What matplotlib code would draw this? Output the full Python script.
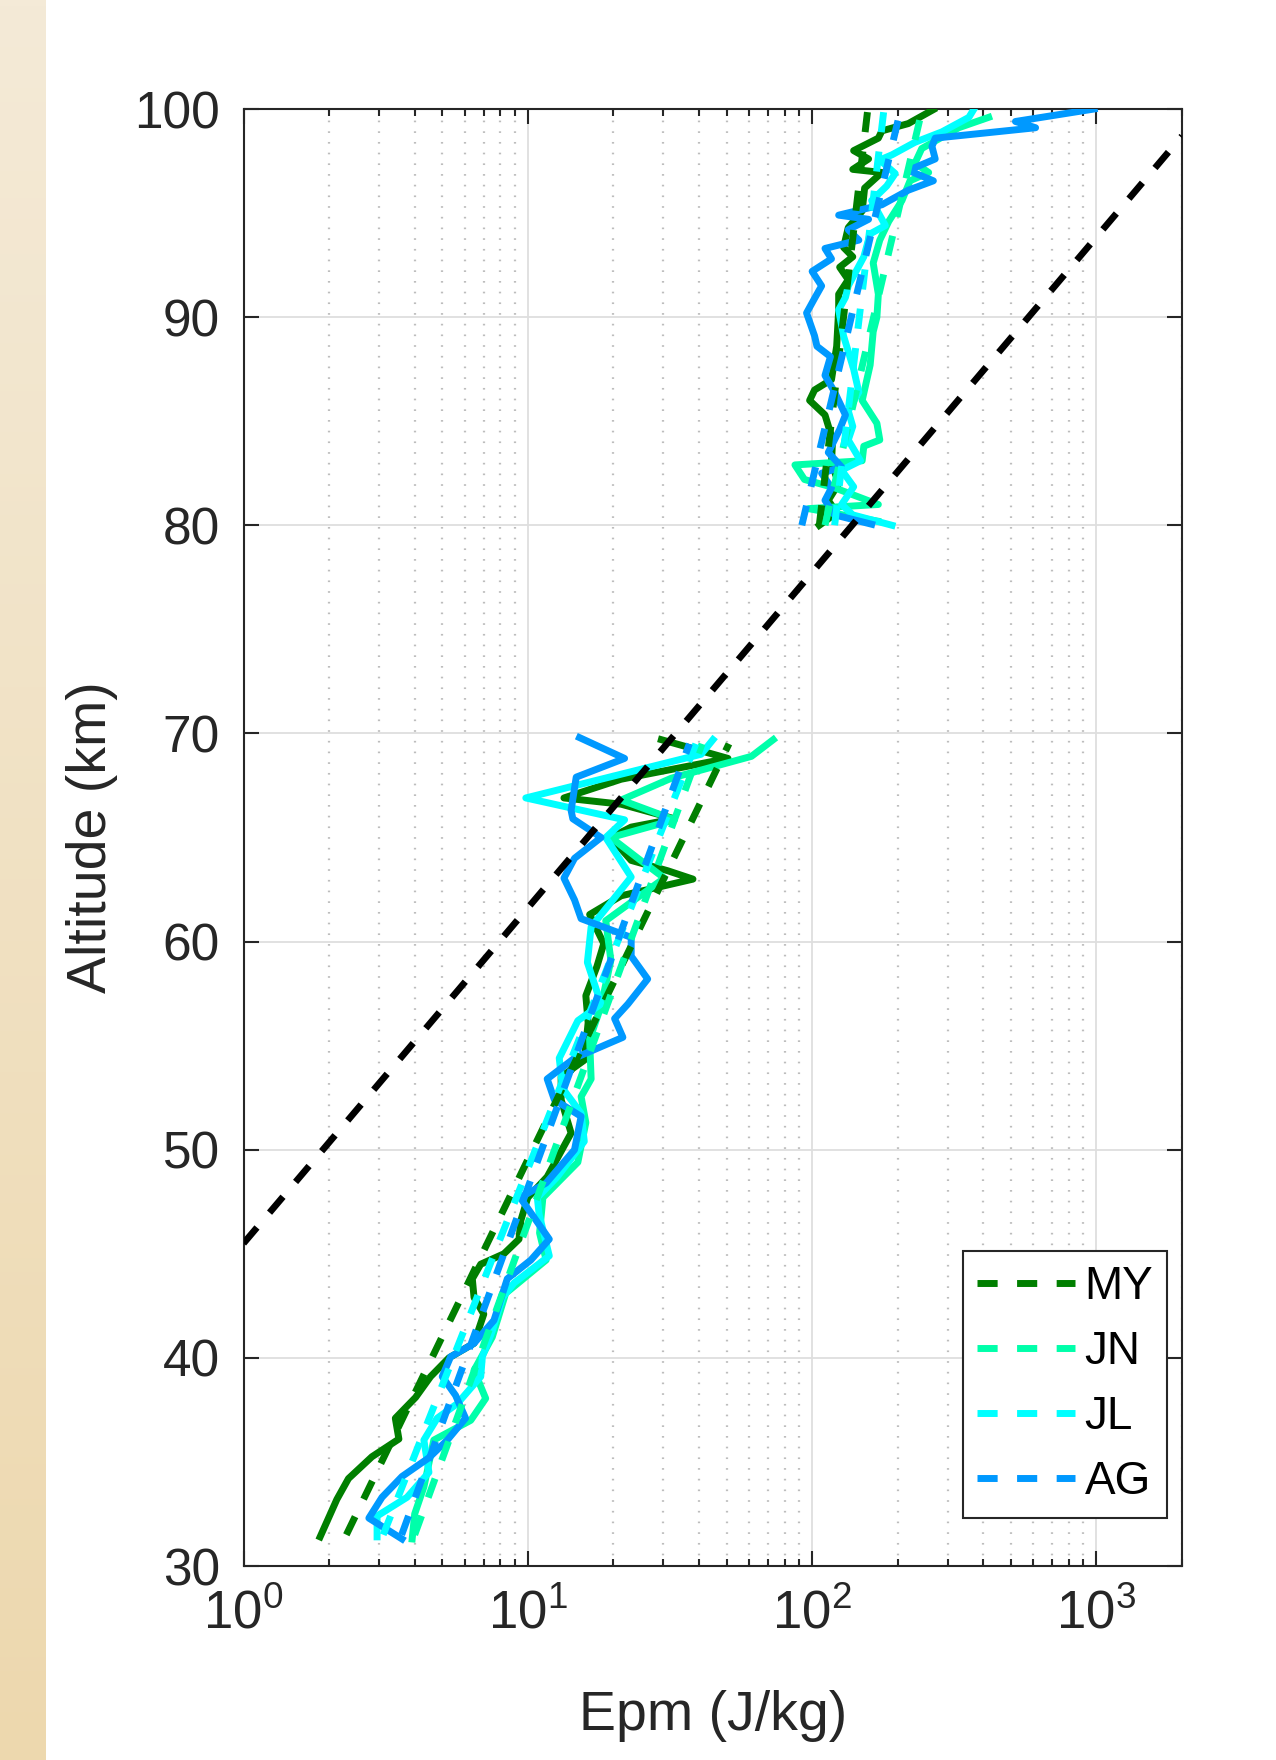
import numpy as np
import matplotlib
matplotlib.use('Agg')
import matplotlib.pyplot as plt
from matplotlib.ticker import LogLocator, LogFormatterMathtext, NullFormatter, NullLocator
from matplotlib.colors import LinearSegmentedColormap

plt.rcParams['font.family'] = ['Liberation Sans', 'DejaVu Sans']
plt.rcParams['mathtext.fontset'] = 'custom'
plt.rcParams['mathtext.rm'] = 'Liberation Sans'
plt.rcParams['mathtext.it'] = 'Liberation Sans:italic'
plt.rcParams['mathtext.bf'] = 'Liberation Sans:bold'
plt.rcParams['lines.scale_dashes'] = False

# ---- profiles, lower part (stratosphere / lower mesosphere) ----
my_lo_alt = [31.4, 33.2, 34.2, 35.25, 36.1, 37.1, 38.1, 39.1, 40.0, 40.7, 42.1, 42.9, 43.8, 44.5,
             45.0, 45.7, 46.6, 47.7, 48.7, 50.8, 52.4, 53.5, 54.3, 56.1, 57.4, 58.8, 59.9, 61.3,
             62.2, 63.0, 63.4, 63.9, 65.0, 65.5, 65.9, 66.6, 66.9, 67.8, 68.8, 69.7]
my_lo_epm = [1.86, 2.13, 2.34, 2.83, 3.52, 3.42, 4.03, 4.55, 5.28, 6.47, 7.0, 6.47, 6.38, 6.83,
             8.24, 9.31, 9.45, 10.0, 11.7, 14.2, 13.1, 13.1, 15.8, 16.3, 16.0, 17.5, 18.5, 16.5,
             21.3, 38.1, 31.1, 23.1, 19.6, 23.1, 32.8, 21.3, 13.4, 21.3, 50.6, 29.5]

jn_lo_alt = [31.3, 32.5, 33.8, 35.0, 36.05, 37.0, 38.05, 39.4, 41.0, 43.1, 44.7, 46.0, 47.7, 49.4,
             51.3, 52.55, 53.4, 55.3, 56.9, 59.1, 61.0, 63.05, 64.0, 65.0, 65.85, 66.8, 67.85,
             68.9, 69.7]
jn_lo_epm = [3.92, 4.0, 4.31, 4.5, 4.67, 6.3, 7.11, 6.47, 7.5, 8.36, 11.6, 11.0, 11.3, 15.0,
             16.0, 15.4, 16.7, 16.5, 18.1, 19.6, 18.8, 30.2, 24.4, 19.6, 32.8, 21.3, 32.0,
             61.2, 73.0]

jl_lo_alt = [31.4, 32.4, 33.3, 34.5, 36.05, 37.1, 37.8, 39.1, 40.05, 41.3, 42.9, 43.6, 44.9,
             46.9, 47.7, 48.7, 50.4, 51.75, 52.95, 54.4, 56.2, 57.0, 59.0, 60.7, 63.1, 65.0,
             65.85, 66.9, 69.0, 69.7]
jl_lo_epm = [2.95, 2.95, 3.76, 4.49, 4.31, 4.8, 5.65, 6.83, 6.92, 7.5, 8.15, 8.95, 11.9,
             10.96, 10.8, 12.7, 15.8, 15.4, 13.25, 12.9, 15.0, 18.1, 16.2, 16.7, 23.1, 18.8,
             21.9, 9.84, 40.7, 44.8]

ag_lo_alt = [31.3, 32.3, 33.3, 34.3, 35.2, 36.05, 37.1, 38.2, 39.1, 40.05, 40.7, 41.8, 43.8,
             44.7, 45.7, 47.7, 48.4, 50.0, 51.6, 52.4, 53.4, 54.4, 55.4, 56.3, 57.0, 58.2, 59.3,
             60.2, 61.1, 62.0, 63.05, 64.0, 65.0, 65.9, 66.3, 67.9, 68.8, 69.8]
ag_lo_epm = [3.61, 2.76, 3.07, 3.61, 4.49, 5.21, 6.04, 5.57, 5.0, 5.35, 6.47, 7.6, 8.47,
             10.25, 11.9, 9.4, 11.6, 14.6, 15.4, 12.4, 11.7, 14.6, 21.6, 20.2, 22.5, 26.4, 23.1,
             23.1, 15.4, 14.6, 13.4, 14.6, 18.1, 14.4, 14.2, 14.8, 21.9, 15.2]

# ---- profiles, upper part (80-100 km) ----
my_up_alt = [80.0, 80.6, 81.2, 82.0, 83.0, 84.1, 85.3, 86.0, 86.5, 87.0, 88.6, 90.35, 91.1,
             91.8, 92.4, 92.9, 93.35, 94.3, 95.1, 96.2, 96.95, 97.1, 97.6, 98.0, 98.6, 98.95,
             99.3, 99.97]
my_up_epm = [106, 122, 114, 124, 117, 118, 111, 98, 102, 117, 122, 124, 124,
             134, 125, 139, 129, 134, 150, 153, 176, 139, 158, 140, 171, 176,
             218, 267]

jn_up_alt = [80.2, 80.8, 81.0, 81.8, 82.2, 82.9, 83.1, 83.8, 84.1, 84.9, 86.0, 87.7, 89.3,
             90.0, 91.1, 92.6, 93.7, 94.6, 95.6, 96.55, 96.95, 97.4, 98.1, 99.1, 99.6]
jn_up_epm = [170, 97, 171, 120, 94, 87, 150, 152, 173, 169, 150, 160, 164,
             169, 171, 164, 173, 186, 207, 221, 257, 230, 243, 328, 418]

jl_up_alt = [80.0, 80.5, 81.0, 81.85, 82.65, 83.1, 84.1, 84.75, 85.5, 86.4, 87.5, 89.1, 90.35,
             90.95, 91.5, 92.9, 94.0, 94.4, 95.6, 96.3, 96.9, 97.55, 97.8, 98.4, 98.9, 99.6,
             100.0]
jl_up_epm = [191, 139, 127, 140, 127, 148, 134, 139, 134, 146, 140, 129, 124,
             131, 134, 152, 160, 181, 162, 183, 196, 173, 191, 230, 286, 356,
             371]

ag_up_alt = [80.05, 80.5, 81.2, 81.8, 82.5, 82.8, 83.5, 84.6, 85.3, 86.4, 87.2, 88.1, 88.6,
             89.1, 90.2, 90.9, 91.5, 92.2, 92.8, 93.3, 93.7, 94.2, 94.7, 94.9, 95.4, 96.1,
             96.55, 97.05, 97.6, 98.2, 98.6, 98.9, 99.1, 99.4, 100.0]
ag_up_epm = [162, 120, 111, 117, 108, 127, 114, 125, 131, 120, 111, 116, 104,
             102, 95.6, 102, 108, 100, 117, 111, 146, 134, 158, 124, 176, 218,
             267, 218, 271, 264, 271, 442, 611, 519, 982]

# ---- exponential fits (end points) ----
fit_lo_alt = [31.5, 69.5]
fit_up_alt = [80.0, 100.0]
my_fit_lo = [2.3, 51]
jn_fit_lo = [4.0, 41]
jl_fit_lo = [3.1, 39]
ag_fit_lo = [3.6, 37]
my_fit_up = [106, 157]
jn_fit_up = [111, 244]
jl_fit_up = [120, 179]
ag_fit_up = [92, 205]

# reference growth line (black dashed)
ref_epm = [1, 2000]
ref_alt = [45.5, 98.7]

names = ['MY', 'JN', 'JL', 'AG']
colors = ['#007F00', '#00FFAA', '#00FFFF', '#0099FF']

W, H = 1276, 1760
fig = plt.figure(figsize=(W / 100, H / 100), dpi=100)

# beige strip on the left edge
strip = fig.add_axes([0, 0, 46 / W, 1])
beige = LinearSegmentedColormap.from_list('beige', ['#F4EAD7', '#EDD8AE'])
strip.imshow(np.linspace(0, 1, 256).reshape(-1, 1), aspect='auto', cmap=beige)
strip.axis('off')

ax = fig.add_axes([243.5 / W, 1 - 1566 / H, (1182 - 243.5) / W, (1566 - 109) / H])

profiles = [
    (my_lo_epm, my_lo_alt, my_up_epm, my_up_alt, my_fit_lo, my_fit_up),
    (jn_lo_epm, jn_lo_alt, jn_up_epm, jn_up_alt, jn_fit_lo, jn_fit_up),
    (jl_lo_epm, jl_lo_alt, jl_up_epm, jl_up_alt, jl_fit_lo, jl_fit_up),
    (ag_lo_epm, ag_lo_alt, ag_up_epm, ag_up_alt, ag_fit_lo, ag_fit_up),
]

for (lo_e, lo_a, up_e, up_a, f_lo, f_up), c in zip(profiles, colors):
    ax.plot(lo_e, lo_a, color=c, lw=5, zorder=3, solid_joinstyle='round')
    ax.plot(up_e, up_a, color=c, lw=5, zorder=3, solid_joinstyle='round')

for (lo_e, lo_a, up_e, up_a, f_lo, f_up), c, n in zip(profiles, colors, names):
    ax.plot(f_lo, fit_lo_alt, color=c, lw=5, dashes=(14.5, 14), label=n, zorder=4)
    ax.plot(f_up, fit_up_alt, color=c, lw=5, dashes=(14.5, 14), zorder=4)

ax.plot(ref_epm, ref_alt, color='black', lw=4.8, dashes=(15, 14), zorder=5)

ax.set_xscale('log')
ax.set_xlim(1, 2000)
ax.set_ylim(30, 100)
ax.set_yticks(np.arange(30, 101, 10))
ax.yaxis.set_minor_locator(NullLocator())
ax.xaxis.set_major_locator(LogLocator(base=10))
ax.xaxis.set_major_formatter(LogFormatterMathtext())
ax.xaxis.set_minor_locator(LogLocator(base=10, subs=np.arange(2, 10)))
ax.xaxis.set_minor_formatter(NullFormatter())

ax.set_axisbelow(True)
ax.grid(which='major', color='#DEDEDE', lw=1.3, ls='-')
ax.grid(which='minor', axis='x', color='#BDBDBD', lw=1.6, dashes=(1.2, 6.5))

for s in ax.spines.values():
    s.set_linewidth(1.5)
    s.set_color('#262626')

ax.tick_params(which='both', direction='in', top=True, right=True, width=1.5,
               color='#262626', labelcolor='#262626')
ax.tick_params(which='major', length=10.5)
ax.tick_params(which='minor', length=5)
ax.tick_params(axis='y', labelsize=37, pad=17)
ax.tick_params(axis='x', labelsize=38, pad=17)

ax.set_ylabel('Altitude (km)', fontsize=40, color='#262626')
ax.yaxis.set_label_coords(-0.134, 0.5)
ax.set_xlabel('Epm (J/kg)', fontsize=40, color='#262626')
ax.xaxis.set_label_coords(0.5, -0.085)

leg = ax.legend(loc='lower right', bbox_to_anchor=(0.984, 0.033), borderaxespad=0,
                fontsize=33, handlelength=2.15, handletextpad=0.2, labelspacing=0.46,
                borderpad=0.3, fancybox=False, framealpha=1, edgecolor='#262626')
leg.get_frame().set_linewidth(1.5)

fig.savefig('out.png', dpi=100)
